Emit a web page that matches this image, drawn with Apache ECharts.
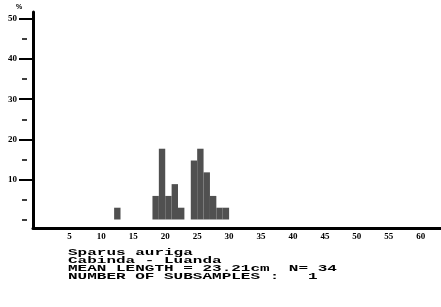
<!DOCTYPE html>
<html>
<head>
<meta charset="utf-8">
<script src="https://cdn.jsdelivr.net/npm/echarts@6/dist/echarts.min.js"></script>
<style>
  html, body { margin: 0; padding: 0; background: #fff; }
  #chart { width: 441px; height: 307px; }
</style>
</head>
<body>
<div id="chart"></div>
<script>
// length classes (cm, left edge of 1 cm bin) and % of fish in each
var binStart = [12, 18, 19, 20, 21, 22, 24, 25, 26, 27, 28, 29];
var pctValues = [2.94, 5.88, 17.65, 5.88, 8.82, 2.94, 14.71, 17.65, 11.76, 5.88, 2.94, 2.94];
var binWidth = 1;

var xTickLabels = [5, 10, 15, 20, 25, 30, 35, 40, 45, 50, 55, 60];
var yTickLabels = [10, 20, 30, 40, 50];
var yMinorTicks = [0, 5, 15, 25, 35, 45];

var infoLines = [
  'Sparus auriga',
  'Cabinda - Luanda',
  'MEAN LENGTH = 23.21cm  N= 34',
  'NUMBER OF SUBSAMPLES :   1'
];

var chart = echarts.init(document.getElementById('chart'));

var labelFont = { color: '#000', fontSize: 9, fontWeight: 'bold', fontFamily: 'Liberation Serif' };
var yMin = -2.12, yMax = 51.75;

var option = {
  backgroundColor: '#fff',
  animation: false,
  grid: { left: 33, right: 0, top: 12, bottom: 79 },
  xAxis: {
    type: 'value',
    min: -0.7,
    max: 63.17,
    splitLine: { show: false },
    axisLine: { show: true, onZero: false, lineStyle: { color: '#000', width: 3 } },
    axisTick: { show: false },
    axisLabel: Object.assign({ customValues: xTickLabels, margin: 4 }, labelFont)
  },
  yAxis: [
    {
      type: 'value',
      min: yMin,
      max: yMax,
      name: '%',
      nameLocation: 'end',
      nameGap: 1,
      nameTextStyle: { color: '#000', fontSize: 7, fontWeight: 'bold', padding: [0, 28, 0, 0] },
      splitLine: { show: false },
      axisLine: { show: true, onZero: false, lineStyle: { color: '#000', width: 3 } },
      axisTick: { show: true, customValues: yTickLabels, length: 14, lineStyle: { color: '#000', width: 2 } },
      axisLabel: Object.assign({ customValues: yTickLabels, margin: 16 }, labelFont)
    },
    {
      // short detached dashes between labelled ticks
      type: 'value',
      position: 'left',
      offset: 6,
      min: yMin,
      max: yMax,
      splitLine: { show: false },
      axisLine: { show: false, onZero: false },
      axisTick: { show: true, customValues: yMinorTicks, length: 5, lineStyle: { color: '#000', width: 1.5 } },
      axisLabel: { show: false }
    }
  ],
  series: [{
    type: 'custom',
    data: binStart.map(function (b, i) { return [b, pctValues[i]]; }),
    renderItem: function (params, api) {
      var top = api.coord([api.value(0), api.value(1)]);
      var bottom = api.coord([api.value(0) + binWidth, 0]);
      return {
        type: 'rect',
        shape: { x: top[0], y: top[1], width: bottom[0] - top[0], height: bottom[1] - top[1] },
        style: { fill: '#505050' }
      };
    }
  }],
  graphic: [{
    type: 'text',
    x: 68,
    y: 249,
    scaleY: 0.62,
    style: {
      text: infoLines.join('\n'),
      fill: '#000',
      font: 'bold 16px "Liberation Mono"',
      lineHeight: 12.6,
      verticalAlign: 'top'
    }
  }]
};

chart.setOption(option);
</script>
</body>
</html>
